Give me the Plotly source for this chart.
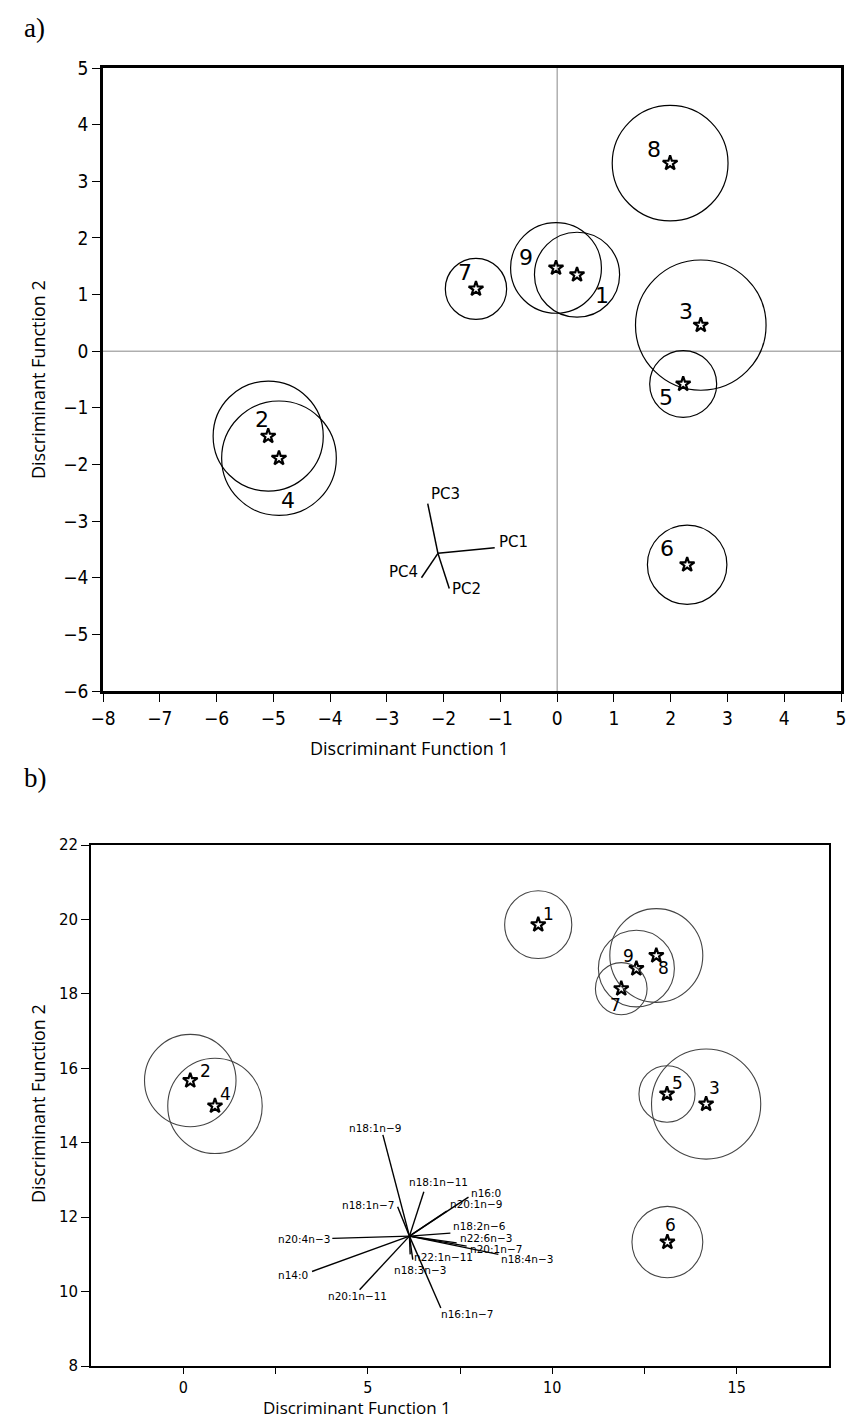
import plotly.graph_objects as go

# ---------------- Panel a: discriminant scores on principal components ----------------
a_groups = ["1", "2", "3", "4", "5", "6", "7", "8", "9"]
a_cx = [0.35, -5.09, 2.53, -4.90, 2.22, 2.29, -1.43, 1.99, -0.02]
a_cy = [1.35, -1.50, 0.46, -1.89, -0.58, -3.77, 1.10, 3.32, 1.47]
a_rad = [0.75, 0.97, 1.15, 1.01, 0.59, 0.70, 0.54, 1.02, 0.80]

a_vec_names = ["PC1", "PC2", "PC3", "PC4"]
a_vec_origin = (-2.10, -3.57)
a_vec_x = [-1.10, -1.90, -2.28, -2.39]
a_vec_y = [-3.47, -4.19, -2.69, -4.00]

a_xticks = list(range(-8, 6))
a_yticks = list(range(-6, 6))

# ---------------- Panel b: discriminant scores on fatty acids ----------------
b_groups = ["1", "2", "3", "4", "5", "6", "7", "8", "9"]
b_cx = [9.62, 0.19, 14.17, 0.86, 13.11, 13.12, 11.87, 12.82, 12.28]
b_cy = [19.86, 15.67, 15.04, 14.99, 15.31, 11.33, 18.14, 19.03, 18.68]
b_rad = [0.91, 1.24, 1.48, 1.28, 0.76, 0.96, 0.70, 1.26, 1.03]

b_vec_names = ["n18:1n−9", "n18:1n−11", "n18:1n−7", "n16:0", "n20:1n−9",
               "n18:2n−6", "n22:6n−3", "n20:1n−7", "n18:4n−3", "n20:4n−3",
               "n14:0", "n20:1n−11", "n16:1n−7", "n22:1n−11", "n18:3n−3"]
b_vec_origin = (6.13, 11.49)
b_vec_x = [5.41, 6.52, 5.81, 7.73, 7.14, 7.24, 7.41, 7.68, 8.54, 4.04,
           3.49, 4.78, 6.98, 6.22, 6.15]
b_vec_y = [14.21, 12.68, 12.28, 12.54, 12.16, 11.57, 11.31, 11.22, 11.00, 11.43,
           10.54, 10.05, 9.56, 10.86, 11.00]

b_xticks = [0, 5, 10, 15]
b_yticks = list(range(8, 23, 2))

# label placement (x shift px, y shift px) relative to each centroid
a_num_off = {"1": (25, -21), "2": (-6, 17), "3": (-15, 14), "4": (9, -42), "5": (-17, -13),
             "6": (-20, 16), "7": (-11, 16), "8": (-16, 14), "9": (-30, 10)}
b_num_off = {"1": (10, 11), "2": (15, 10), "3": (8, 16), "4": (11, 12), "5": (10, 11),
             "6": (3, 17), "7": (-6, -16), "8": (7, -12), "9": (-8, 13)}
# vector label placement (anchor, x shift px, y shift px) relative to each tip
a_vec_lab = {"PC1": ("left", 2, 6), "PC2": ("left", 1, -1), "PC3": ("left", 1, 10),
             "PC4": ("right", -1, 6)}
b_vec_lab = [("center", -8, 7), ("center", 15, 10), ("right", -2, 2), ("left", 1, 4),
             ("left", 1, 7), ("left", 1, 7), ("left", 1, 5), ("left", 1, -3),
             ("left", 1, -5), ("right", 0, -1), ("right", -2, -4), ("center", -2, -6),
             ("left", -2, -6), ("left", -1, 3), ("center", 10, -16)]

W, H = 848, 1418
TICK_FONT = "Liberation Sans Narrow, DejaVu Sans Condensed, Roboto, sans-serif"
TITLE_FONT = "Open Sans, Liberation Sans, sans-serif"

fig = go.Figure()

# panel a centroids
fig.add_trace(go.Scatter(
    x=a_cx, y=a_cy, mode="markers", xaxis="x", yaxis="y",
    marker=dict(symbol="star-open", size=11, color="black", line=dict(width=2.2, color="black")),
    showlegend=False, hoverinfo="skip"))
# panel a loading vectors
vx, vy = [], []
for ex, ey in zip(a_vec_x, a_vec_y):
    vx += [a_vec_origin[0], ex, None]
    vy += [a_vec_origin[1], ey, None]
fig.add_trace(go.Scatter(x=vx, y=vy, mode="lines", xaxis="x", yaxis="y",
                         line=dict(color="black", width=1.5), showlegend=False, hoverinfo="skip"))

# panel b centroids
fig.add_trace(go.Scatter(
    x=b_cx, y=b_cy, mode="markers", xaxis="x2", yaxis="y2",
    marker=dict(symbol="star-open", size=11, color="black", line=dict(width=2.2, color="black")),
    showlegend=False, hoverinfo="skip"))
# panel b loading vectors
vx, vy = [], []
for ex, ey in zip(b_vec_x, b_vec_y):
    vx += [b_vec_origin[0], ex, None]
    vy += [b_vec_origin[1], ey, None]
fig.add_trace(go.Scatter(x=vx, y=vy, mode="lines", xaxis="x2", yaxis="y2",
                         line=dict(color="black", width=1.4), showlegend=False, hoverinfo="skip"))

shapes = []
for cx, cy, r in zip(a_cx, a_cy, a_rad):
    shapes.append(dict(type="circle", xref="x", yref="y", x0=cx - r, x1=cx + r,
                       y0=cy - r, y1=cy + r, line=dict(color="black", width=1.2), layer="above"))
for cx, cy, r in zip(b_cx, b_cy, b_rad):
    shapes.append(dict(type="circle", xref="x2", yref="y2", x0=cx - r, x1=cx + r,
                       y0=cy - r, y1=cy + r, line=dict(color="#444444", width=1.1), layer="above"))
# zero reference lines in panel a
shapes.append(dict(type="line", xref="x", yref="y", x0=0, x1=0, y0=a_yticks[0], y1=a_yticks[-1],
                   line=dict(color="#888888", width=1), layer="below"))
shapes.append(dict(type="line", xref="x", yref="y", x0=a_xticks[0], x1=a_xticks[-1], y0=0, y1=0,
                   line=dict(color="#888888", width=1), layer="below"))

ann = []
for g, cx, cy in zip(a_groups, a_cx, a_cy):
    dx, dy = a_num_off[g]
    ann.append(dict(x=cx, y=cy, xref="x", yref="y", text=g, showarrow=False,
                    xanchor="center", yanchor="middle",
                    xshift=dx, yshift=dy, font=dict(family="DejaVu Sans", size=22, color="black")))
for g, cx, cy in zip(b_groups, b_cx, b_cy):
    dx, dy = b_num_off[g]
    ann.append(dict(x=cx, y=cy, xref="x2", yref="y2", text=g, showarrow=False,
                    xanchor="center", yanchor="middle",
                    xshift=dx, yshift=dy, font=dict(family="DejaVu Sans", size=17, color="black")))
for name, ex, ey in zip(a_vec_names, a_vec_x, a_vec_y):
    anc, dx, dy = a_vec_lab[name]
    ann.append(dict(x=ex, y=ey, xref="x", yref="y", text=name, showarrow=False,
                    xanchor=anc, yanchor="middle", xshift=dx, yshift=dy,
                    font=dict(family="DejaVu Sans", size=15, color="black")))
for name, ex, ey, (anc, dx, dy) in zip(b_vec_names, b_vec_x, b_vec_y, b_vec_lab):
    ann.append(dict(x=ex, y=ey, xref="x2", yref="y2", text=name, showarrow=False,
                    xanchor=anc, yanchor="middle", xshift=dx, yshift=dy,
                    font=dict(family="DejaVu Sans", size=10.5, color="black")))

# panel letters and axis titles
ann.append(dict(x=22 / W, y=1 - 28 / H, xref="paper", yref="paper", text="a)", showarrow=False,
                xanchor="left", yanchor="middle",
                font=dict(family="Liberation Serif, Times New Roman, serif", size=27, color="black")))
ann.append(dict(x=22 / W, y=1 - 778 / H, xref="paper", yref="paper", text="b)", showarrow=False,
                xanchor="left", yanchor="middle",
                font=dict(family="Liberation Serif, Times New Roman, serif", size=27, color="black")))
ann.append(dict(x=409 / W, y=1 - 748 / H, xref="paper", yref="paper", text="Discriminant Function 1",
                showarrow=False, xanchor="center", yanchor="middle",
                font=dict(family=TITLE_FONT, size=18, color="black")))
ann.append(dict(x=38 / W, y=1 - 380 / H, xref="paper", yref="paper", text="Discriminant Function 2",
                showarrow=False, textangle=-90, xanchor="center", yanchor="middle",
                font=dict(family=TITLE_FONT, size=18, color="black")))
ann.append(dict(x=357 / W, y=1 - 1407 / H, xref="paper", yref="paper", text="Discriminant Function 1",
                showarrow=False, xanchor="center", yanchor="middle",
                font=dict(family=TITLE_FONT, size=17, color="black")))
ann.append(dict(x=38 / W, y=1 - 1104 / H, xref="paper", yref="paper", text="Discriminant Function 2",
                showarrow=False, textangle=-90, xanchor="center", yanchor="middle",
                font=dict(family=TITLE_FONT, size=18, color="black")))

axis_common = dict(showgrid=False, zeroline=False, showline=True, linecolor="black",
                   mirror=True, ticks="outside", tickcolor="black", fixedrange=True,
                   automargin=False)

fig.update_layout(
    template="none",
    width=W, height=H, margin=dict(l=0, r=0, t=0, b=0, pad=0), autosize=False,
    paper_bgcolor="white", plot_bgcolor="white",
    shapes=shapes, annotations=ann,
    xaxis=dict(**axis_common, domain=[103 / W, 841 / W], anchor="y",
               range=[a_xticks[0], a_xticks[-1]], tickvals=a_xticks, linewidth=2.5,
               ticklen=8, tickwidth=1.2, tickfont=dict(family=TICK_FONT, size=19, color="black")),
    yaxis=dict(**axis_common, domain=[1 - 691 / H, 1 - 68 / H], anchor="x",
               range=[a_yticks[0], a_yticks[-1]], tickvals=a_yticks, linewidth=2.5,
               ticklen=8, tickwidth=1.2, tickfont=dict(family=TICK_FONT, size=19, color="black")),
    xaxis2=dict(**axis_common, domain=[91 / W, 829 / W], anchor="y2",
                range=[-2.5, 17.5], tickvals=b_xticks, linewidth=2,
                ticklen=6, tickwidth=1.2, tickfont=dict(family=TICK_FONT, size=16, color="black"),
                minor=dict(tickvals=[2.5, 7.5, 12.5], ticks="outside", ticklen=6,
                           tickcolor="black", tickwidth=1.2)),
    yaxis2=dict(**axis_common, domain=[1 - 1366 / H, 1 - 845 / H], anchor="x2",
                range=[b_yticks[0], b_yticks[-1]], tickvals=b_yticks, linewidth=2,
                ticklen=8, tickwidth=1.2, tickfont=dict(family="DejaVu Sans", size=15, color="black")),
)

fig.write_html("out.html")
